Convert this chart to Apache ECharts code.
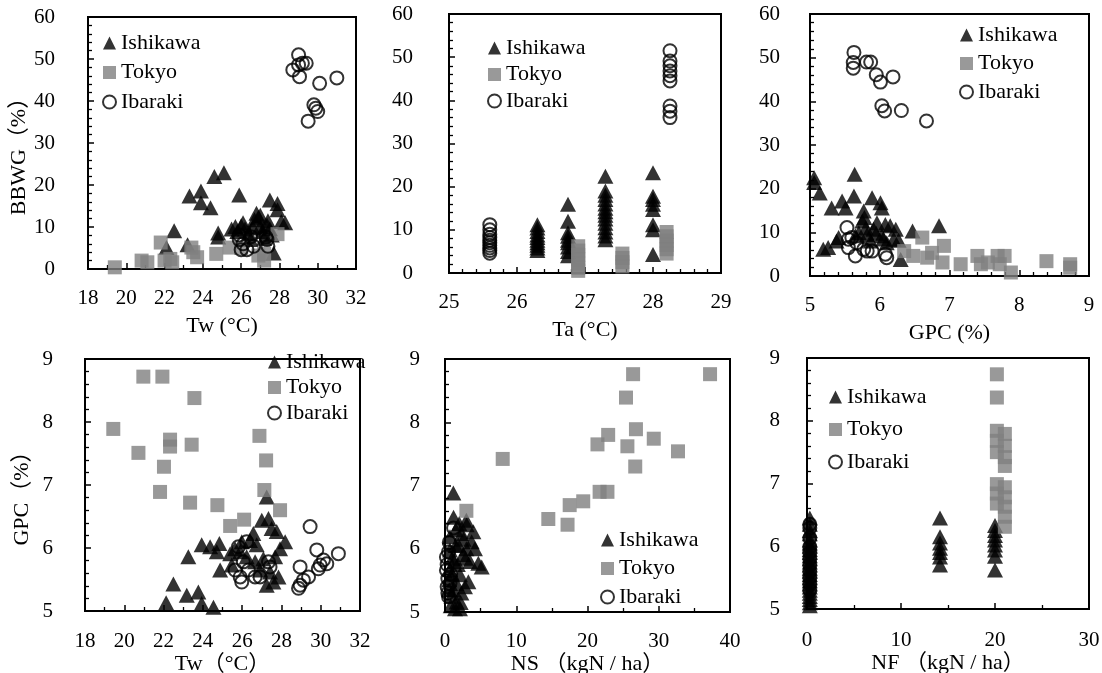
<!DOCTYPE html>
<html><head><meta charset="utf-8">
<script src="https://cdn.jsdelivr.net/npm/echarts@6/dist/echarts.min.js"></script>
<style>html,body{margin:0;padding:0;background:#fff}#c{width:1102px;height:673px}</style>
</head><body><div id="c"></div>
<script>
// ---------- names ----------
const seriesNames = ['Ishikawa', 'Tokyo', 'Ibaraki'];
const xNames = ['Tw (°C)', 'Ta (°C)', 'GPC (%)', 'Tw（°C）', 'NS （kgN / ha）', 'NF （kgN / ha）'];
const yNames = ['BBWG（%）', '', '', 'GPC（%）', '', ''];

// ---------- axis ranges (min, max, interval) ----------
const xRanges = [[18, 32, 2], [25, 29, 1], [5, 9, 1], [18, 32, 2], [0, 40, 10], [0, 30, 10]];
const yRanges = [[0, 60, 10], [0, 60, 10], [0, 60, 10], [5, 9, 1], [5, 9, 1], [5, 9, 1]];

// ---------- Panel 1: Tw vs BBWG ----------
const p1Ishikawa = [[22.1,5.1],[22.5,9.1],[23.2,5.8],[23.3,17.4],[23.9,18.6],[23.9,15.8],[24.4,14.6],[24.6,22.0],[25.1,22.9],
  [24.8,7.6],[24.8,8.6],[25.9,17.6],[25.7,10.1],[26.0,10.3],[25.8,8.9],[26.2,9.5],[26.4,8.5],[26.5,7.0],[26.7,11.7],[26.8,13.3],
  [26.9,12.3],[27.0,10.2],[27.1,8.9],[27.2,7.3],[27.35,10.5],[27.4,11.5],[27.5,9.6],[27.6,8.1],[27.5,16.4],[27.9,15.6],[27.9,14.1],
  [28.1,11.3],[28.3,11.0],[27.7,3.8],[25.5,9.5],[26.1,11.0],[26.6,10.0],[27.0,12.8]];
const p1Tokyo = [[19.4,0.4],[20.8,2.0],[21.1,1.6],[21.8,6.3],[22.0,2.0],[22.4,1.6],[22.3,2.4],[23.4,5.1],[23.5,4.0],[23.7,2.8],
  [24.7,3.6],[25.4,5.1],[26.0,5.0],[26.9,3.2],[27.2,2.0],[27.2,3.6],[27.9,8.3]];
const p1Ibaraki = [[29.0,51.0],[28.7,47.4],[29.0,48.6],[29.2,49.0],[29.4,49.0],[29.05,45.8],[30.1,44.2],[31.0,45.5],[29.8,39.1],
  [29.9,38.3],[30.0,37.5],[29.5,35.2],[25.9,7.0],[26.0,4.6],[26.3,4.6],[26.65,5.4],[27.4,5.4],[27.3,7.6],[26.8,9.7],[25.9,8.1],
  [26.5,7.7],[27.35,7.0],[26.1,6.0]];

// ---------- Panel 2: Ta vs BBWG (values stacked at few Ta levels) ----------
const p2IshikawaTa = [26.3, 26.75, 27.3, 28.0];
const p2IshikawaBBWG = [[11.2,10.4,9.6,8.8,8.2,7.6,7.0,6.4,5.8,5.2],[15.9,12.0,9.3,8.5,7.6,7.0,6.0,5.0,4.0],
  [22.4,19.0,18.0,17.0,16.0,15.0,14.2,13.4,12.5,11.5,10.5,9.5,8.6,7.7],[23.2,17.8,17.0,15.9,14.7,11.2,10.0,4.3]];
const p2TokyoTa = [26.9, 27.55, 28.2];
const p2TokyoBBWG = [[6.2,5.2,4.2,3.2,2.2,1.2,0.5],[4.5,3.5,2.5,1.5],[9.5,8.5,7.5,6.5,5.5,4.5]];
const p2IbarakiTa = [25.6, 28.25];
const p2IbarakiBBWG = [[11.2,10.0,9.0,8.2,7.6,7.0,6.4,5.8,5.2,4.6],[51.5,49.1,48.0,46.8,45.7,44.5,38.7,37.5,36.0]];

// ---------- Panel 3: GPC vs BBWG ----------
const p3Ishikawa = [[5.06,22.5],[5.06,21.4],[5.14,19.0],[5.31,15.6],[5.46,17.2],[5.51,15.6],[5.64,23.3],[5.63,18.3],[5.77,14.9],
  [5.75,12.6],[5.78,13.4],[5.89,17.9],[6.01,16.8],[6.03,15.6],[5.96,12.2],[5.91,10.7],[6.08,11.8],[6.15,11.5],[6.23,10.7],[6.2,8.4],
  [6.47,10.3],[6.85,11.5],[5.19,6.1],[5.26,6.5],[5.41,8.8],[5.38,8.0],[5.65,9.2],[5.7,9.9],[5.82,9.5],[5.87,8.0],[6.03,9.2],
  [6.1,7.6],[6.3,3.8],[5.8,11.0],[5.95,9.8],[6.05,8.5],[6.27,8.2]];
const p3Tokyo = [[6.61,8.8],[6.35,5.7],[6.48,4.6],[6.68,4.2],[6.75,5.3],[6.92,6.9],[6.9,3.1],[7.16,2.7],[7.4,4.6],[7.45,2.7],
  [7.55,3.1],[7.69,4.6],[7.79,4.6],[7.72,2.7],[7.88,0.8],[8.39,3.4],[8.73,2.7],[8.73,1.9]];
const p3Ibaraki = [[5.63,51.2],[5.62,48.9],[5.62,47.6],[5.81,49.0],[5.87,49.0],[5.95,46.1],[6.01,44.4],[6.19,45.6],[6.03,39.0],
  [6.07,37.8],[6.31,37.9],[6.67,35.5],[5.53,11.1],[5.55,8.4],[5.6,8.8],[5.67,7.6],[5.55,6.5],[5.65,4.6],[5.77,6.1],[5.82,5.7],
  [5.89,5.7],[6.08,5.0],[6.1,4.2]];

// ---------- Panel 4: Tw vs GPC ----------
const p4Ishikawa = [[27.25,6.81],[27.0,6.44],[27.34,6.47],[27.5,6.31],[27.76,6.26],[28.19,6.10],[27.93,5.99],[27.68,5.86],
  [26.57,6.23],[26.4,6.12],[26.74,6.05],[25.98,6.10],[25.64,5.99],[25.39,5.91],[25.9,5.94],[25.47,5.73],[26.23,5.86],[26.66,5.78],
  [27.08,5.83],[26.91,5.65],[27.42,5.62],[27.85,5.54],[27.25,5.41],[27.59,5.46],[24.88,5.65],[23.94,6.05],[24.37,6.02],[24.84,6.07],
  [24.71,5.94],[23.26,5.86],[22.5,5.43],[23.18,5.25],[23.77,5.3],[23.94,5.12],[24.54,5.06],[22.13,5.13]];
const p4Tokyo = [[20.97,8.72],[21.94,8.72],[23.57,8.38],[19.44,7.89],[20.72,7.51],[22.33,7.72],[22.33,7.61],[23.43,7.64],
  [22.02,7.29],[21.82,6.89],[23.35,6.72],[24.74,6.68],[25.39,6.35],[26.1,6.45],[26.88,7.78],[27.22,7.39],[27.13,6.92],[27.93,6.6]];
const p4Ibaraki = [[29.46,6.34],[29.8,5.97],[30.9,5.91],[30.14,5.81],[29.97,5.73],[29.88,5.67],[28.95,5.70],[29.38,5.54],
  [29.12,5.49],[28.95,5.41],[28.87,5.36],[30.31,5.75],[25.9,5.54],[25.98,5.46],[25.64,5.65],[26.06,5.78],[26.32,5.65],[26.66,5.54],
  [26.91,5.54],[27.34,5.78],[27.42,5.70],[26.23,6.10],[25.81,6.02]];

// ---------- Panel 5: NS vs GPC ----------
const p5Ishikawa = [[1.17,6.88],[3.04,6.38],[3.98,6.27],[3.74,6.11],[4.2,6.0],[4.68,5.77],[3.5,5.8],[5.15,5.71],[3.28,5.48],
  [2.8,5.40],[1.64,5.16],[1.4,5.05],[2.1,5.05],[0.7,5.98],[0.7,6.19],[0.7,5.67],[0.6,5.51],[1.17,5.35],[2.1,5.59],[2.57,5.91],
  [1.87,6.06],[2.34,6.24],[1.2,6.5],[1.5,6.3],[2.0,6.4],[2.6,6.15],[1.3,5.8],[1.0,5.6],[1.6,5.45],[0.9,5.25],[2.3,5.3],[1.8,5.75],
  [3.0,6.0],[2.9,5.85],[3.0,6.45],[0.8,5.1],[1.0,5.85],[1.5,6.05],[2.2,5.15],[0.6,5.35]];
const p5Tokyo = [[26.4,8.76],[37.2,8.76],[25.4,8.39],[21.4,7.65],[22.9,7.80],[25.6,7.62],[26.8,7.89],[29.3,7.74],[32.7,7.54],
  [26.7,7.30],[8.1,7.42],[21.7,6.90],[22.8,6.90],[19.4,6.75],[17.5,6.69],[14.5,6.47],[17.2,6.38],[3.0,6.60]];
const p5Ibaraki = [[1.2,6.33],[0.2,5.87],[0.2,5.66],[0.4,5.53],[0.5,5.24],[0.3,5.75],[0.5,5.95],[0.6,6.1],[0.3,5.4],[0.4,5.3],
  [0.8,5.6],[0.7,5.45]];

// ---------- Panel 6: NF vs GPC (values stacked at few NF levels) ----------
const p6IshikawaNF = [0.3, 14.15, 20.0];
const p6IshikawaGPC = [[6.45,6.35,6.25,6.2,6.1,6.05,6.0,5.95,5.9,5.85,5.8,5.75,5.7,5.65,5.6,5.55,5.5,5.45,5.4,5.35,5.3,5.25,5.2,5.15,5.1,5.05],
  [6.45,6.15,6.05,5.97,5.9,5.83,5.7],
  [6.33,6.25,6.17,6.1,6.02,5.94,5.84,5.62]];
const p6TokyoNF = [20.2, 21.05];
const p6TokyoGPC = [[8.74,8.37,7.84,7.68,7.5,6.99,6.84,6.68],[7.79,7.6,7.42,7.28,6.94,6.78,6.63,6.47,6.31]];
const p6IbarakiNF = [0.3];
const p6IbarakiGPC = [[6.35,6.29,6.13,5.99,5.9,5.8,5.7,5.6,5.5,5.4,5.3]];

// ---------- build ----------
function stack(xs, ys) { const out = []; xs.forEach((x, i) => ys[i].forEach(y => out.push([x, y]))); return out; }
const panelData = [
  [p1Ishikawa, p1Tokyo, p1Ibaraki],
  [stack(p2IshikawaTa, p2IshikawaBBWG), stack(p2TokyoTa, p2TokyoBBWG), stack(p2IbarakiTa, p2IbarakiBBWG)],
  [p3Ishikawa, p3Tokyo, p3Ibaraki],
  [p4Ishikawa, p4Tokyo, p4Ibaraki],
  [p5Ishikawa, p5Tokyo, p5Ibaraki],
  [stack(p6IshikawaNF, p6IshikawaGPC), stack(p6TokyoNF, p6TokyoGPC), stack(p6IbarakiNF, p6IbarakiGPC)]
];

const FONT = "'Liberation Serif','Noto Sans CJK JP',serif";
const grids = [
  {left: 88, top: 17, width: 268, height: 252},
  {left: 449, top: 14, width: 272, height: 259},
  {left: 810, top: 14, width: 279, height: 262},
  {left: 85, top: 359, width: 275, height: 252},
  {left: 445, top: 359, width: 285, height: 253},
  {left: 807, top: 358, width: 282, height: 251}
];
const xMinor = [2, 5, 5, 2, 2, 2];
const xLabelMargin = [19, 19, 19, 20, 19, 21];
const xNameGap = [46, 46, 46, 36, 32, 36];
const yLabelMargin = [33, 36, 30, 32, 25, 27];
const yNameGap = [56, 0, 0, 52, 0, 0];
const yNamePad = [[0, 16, 0, 0], 0, 0, [0, 16, 0, 0], 0, 0];
const legendPos = [
  {left: 102, top: 32, itemGap: 7.5},
  {left: 487, top: 37, itemGap: 4.5},
  {left: 959, top: 24, itemGap: 6.5},
  {left: 267, top: 351, itemGap: 3.5},
  {left: 600, top: 529, itemGap: 6.5},
  {left: 828, top: 386, itemGap: 10.5}
];

const styles = [
  {symbol: 'triangle', symbolSize: [16, 15], itemStyle: {color: '#000'}},
  {symbol: 'rect', symbolSize: 14, itemStyle: {color: '#808080'}},
  {symbol: 'circle', symbolSize: 13, itemStyle: {color: 'rgba(255,255,255,0)', borderColor: '#000', borderWidth: 2}}
];

const option = {
  animation: false,
  backgroundColor: '#fff',
  grid: grids.map(g => Object.assign({show: true, borderColor: '#000', borderWidth: 2, containLabel: false, outerBoundsMode: 'none'}, g)),
  xAxis: xRanges.map((r, i) => ({
    gridIndex: i, type: 'value', min: r[0], max: r[1], interval: r[2],
    name: xNames[i], nameLocation: 'middle', nameGap: xNameGap[i],
    nameTextStyle: {fontFamily: FONT, fontSize: 22, color: '#000'},
    axisLine: {show: true, onZero: false, lineStyle: {color: '#000', width: 2}},
    axisTick: {show: true, inside: true, length: 6, lineStyle: {color: '#000', width: 1.5}},
    minorTick: {show: true, splitNumber: xMinor[i], length: 4, lineStyle: {color: '#000', width: 1.3}},
    splitLine: {show: false},
    axisLabel: {color: '#000', fontFamily: FONT, fontSize: 21, margin: xLabelMargin[i]}
  })),
  yAxis: yRanges.map((r, i) => ({
    gridIndex: i, type: 'value', min: r[0], max: r[1], interval: r[2],
    name: yNames[i], nameLocation: 'middle', nameGap: yNameGap[i],
    nameTextStyle: {fontFamily: FONT, fontSize: 22, color: '#000', padding: yNamePad[i]},
    axisLine: {show: true, onZero: false, lineStyle: {color: '#000', width: 2}},
    axisTick: {show: true, inside: true, length: 6, lineStyle: {color: '#000', width: 1.5}},
    minorTick: {show: true, splitNumber: 5, length: 4, lineStyle: {color: '#000', width: 1.3}},
    splitLine: {show: false},
    axisLabel: {color: '#000', fontFamily: FONT, fontSize: 21, margin: yLabelMargin[i]}
  })),
  legend: legendPos.map(p => ({
    orient: 'vertical', left: p.left, top: p.top, itemGap: p.itemGap, padding: 0,
    itemWidth: 13, itemHeight: 13, itemTextGap: 6, selectedMode: false,
    data: seriesNames,
    textStyle: {fontFamily: FONT, fontSize: 22, color: '#000', lineHeight: 22}
  })),
  series: []
};
panelData.forEach((sets, p) => {
  sets.forEach((d, s) => {
    option.series.push(Object.assign({
      type: 'scatter', name: seriesNames[s], xAxisIndex: p, yAxisIndex: p,
      data: d, clip: false, emphasis: {disabled: true}
    }, JSON.parse(JSON.stringify(styles[s]))));
  });
});

const chart = echarts.init(document.getElementById('c'), null, {renderer: 'canvas'});
chart.setOption(option);
</script>
</body></html>
